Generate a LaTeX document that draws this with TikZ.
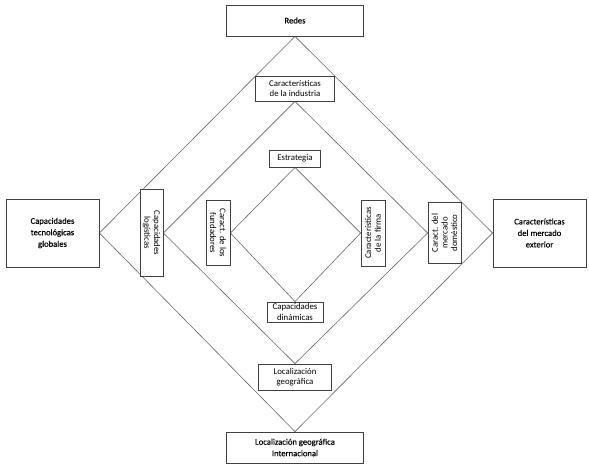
\documentclass[tikz,border=0pt]{standalone}
\usepackage{fontspec}
\setmainfont{Carlito}
\newfontfamily\outerfont[FakeBold=0.3]{Carlito}
\usetikzlibrary{backgrounds}
\tikzset{every node/.style={fill=white, draw=black!75, line width=0.8pt, inner sep=0pt, align=center, font=\fontsize{8.8}{10.5}\selectfont},
 outerbox/.style={font=\outerfont\fontsize{8.6}{11.5}\selectfont},
 sidebox/.style={font=\fontsize{8.8}{9.6}\selectfont},
 diamond line/.style={draw=black!60, line width=0.6pt}}

\begin{document}
\begin{tikzpicture}[x=1pt,y=-1pt]
  \useasboundingbox (0,0) rectangle (589,466);
  \node[outerbox, minimum width=137, minimum height=31] (redes) at (295, 20.5) {Redes};
  \node[outerbox, minimum width=93, minimum height=68] (tec) at ( 52.5,233) {Capacidades\\tecnológicas\\globales};
  \node[outerbox, minimum width=93, minimum height=68] (ext) at (539.5,233) {Características\\del mercado\\exterior};
  \node[outerbox, minimum width=137, minimum height=31] (intl) at (295,447.5) {Localización geográfica\\Internacional};
  \node[minimum width=79, minimum height=25] (indus) at (295, 88.5) {Características\\de la industria};
  \node[minimum width=51, minimum height=17] (estr) at (295,158.5) {Estrategia};
  \node[minimum width=56, minimum height=20] (capdin) at (295,312) {Capacidades\\dinámicas};
  \node[minimum width=73, minimum height=26] (locgeo) at (295,377) {Localización\\geográfica};
  \node[sidebox, rotate=-90, minimum width=87, minimum height=23] (log) at (151.5,233) {Capacidades\\logísticas};
  \node[sidebox, rotate=-90, minimum width=65, minimum height=24] (fund) at (218,233) {Caract. de los\\fundadores};
  \node[sidebox, rotate=90, minimum width=66, minimum height=24] (firma) at (373,233) {Características\\de la firma};
  \node[sidebox, rotate=90, minimum width=61, minimum height=33] (dom) at (444.5,233) {Caract. del\\mercado\\doméstico};
  \begin{pgfonlayer}{background}
   \draw[diamond line] (redes.south) -- (tec.east) -- (intl.north) -- (ext.west) -- cycle;
   \draw[diamond line] (indus.south) -- (log.north) -- (locgeo.north) -- (dom.north) -- cycle;
   \draw[diamond line] (estr.south) -- (fund.north) -- (capdin.north) -- (firma.north) -- cycle;
  \end{pgfonlayer}
\end{tikzpicture}
\end{document}
